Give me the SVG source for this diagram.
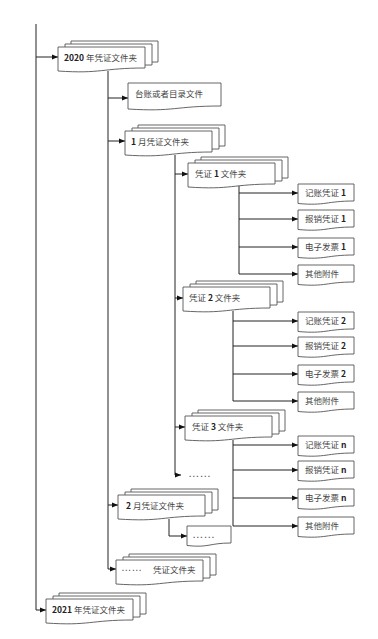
<svg xmlns="http://www.w3.org/2000/svg" xmlns:xlink="http://www.w3.org/1999/xlink" width="378" height="639" viewBox="0 0 378 639">
<style>
.doc{fill:#fff;stroke:#555;stroke-width:0.9}
.ln{fill:none;stroke:#222;stroke-width:1}
.t{font-family:"Noto Sans CJK SC","Noto Sans",sans-serif;font-size:8.5px;fill:#444}
.b{font-weight:bold;fill:#222}
.d{font-family:"Liberation Sans",Arial,sans-serif;font-size:11.5px;fill:#555}
</style>
<defs>
<marker id="ar" markerUnits="userSpaceOnUse" markerWidth="6" markerHeight="6" refX="6" refY="3" orient="auto">
<path d="M0,0.5 L6,3 L0,5.5 z" fill="#111"/>
</marker>
<g id="folder">
<path class="doc" d="M13,-6 h87 v21 c-43.5,0 -43.5,6 -87,3 z"/>
<path class="doc" d="M7,-3 h87 v21 c-43.5,0 -43.5,6 -87,3 z"/>
<path class="doc" d="M0,0 h87 v21 c-43.5,0 -43.5,6 -87,3 z"/>
</g>
<path id="leaf" class="doc" d="M0,0 h56 v17 c-28,0 -28,5 -56,2.5 z"/>
</defs>
<rect width="378" height="639" fill="#fff"/>
<g id="connectors" class="ln">
<path d="M36,24 V610 H46" marker-end="url(#ar)"/>
<path d="M36,57 H58" marker-end="url(#ar)"/>
<path d="M108,71 V569 H116" marker-end="url(#ar)"/>
<path d="M108,98 H128" marker-end="url(#ar)"/>
<path d="M108,141 H125" marker-end="url(#ar)"/>
<path d="M108,505 H118" marker-end="url(#ar)"/>
<path d="M175,155 V475 H181" marker-end="url(#ar)"/>
<path d="M175,174 H188" marker-end="url(#ar)"/>
<path d="M175,298 H183" marker-end="url(#ar)"/>
<path d="M175,427 H185" marker-end="url(#ar)"/>
<path d="M239,185 V274 H298" marker-end="url(#ar)"/>
<path d="M239,193 H298" marker-end="url(#ar)"/>
<path d="M239,219 H298" marker-end="url(#ar)"/>
<path d="M239,247 H298" marker-end="url(#ar)"/>
<path d="M233,311 V401 H298" marker-end="url(#ar)"/>
<path d="M233,321 H298" marker-end="url(#ar)"/>
<path d="M233,346 H298" marker-end="url(#ar)"/>
<path d="M233,374 H298" marker-end="url(#ar)"/>
<path d="M233,440 V526 H298" marker-end="url(#ar)"/>
<path d="M233,445 H298" marker-end="url(#ar)"/>
<path d="M233,470 H298" marker-end="url(#ar)"/>
<path d="M233,498 H298" marker-end="url(#ar)"/>
<path d="M169,519 V536 H187" marker-end="url(#ar)"/>
</g>
<g id="n2020"><use xlink:href="#folder" x="58" y="47"/><text class="t" x="64" y="61"><tspan class="b">2020</tspan> 年凭证文件夹</text></g>
<g id="ntaizhang"><path class="doc" d="M128,83 h93 v23 c-46.5,0 -46.5,6 -93,3 z"/><text class="t" x="135" y="97">台账或者目录文件</text></g>
<g id="njan"><use xlink:href="#folder" x="125" y="131"/><text class="t" x="131" y="145"><tspan class="b">1</tspan> 月凭证文件夹</text></g>
<g id="nv1"><use xlink:href="#folder" x="188" y="163"/><text class="t" x="195" y="177">凭证 <tspan class="b">1</tspan> 文件夹</text></g>
<g id="nv1a"><use xlink:href="#leaf" x="298" y="184"/><text class="t" x="305" y="196">记账凭证 <tspan class="b">1</tspan></text></g>
<g id="nv1b"><use xlink:href="#leaf" x="298" y="210"/><text class="t" x="305" y="222">报销凭证 <tspan class="b">1</tspan></text></g>
<g id="nv1c"><use xlink:href="#leaf" x="298" y="238"/><text class="t" x="305" y="250">电子发票 <tspan class="b">1</tspan></text></g>
<g id="nv1d"><use xlink:href="#leaf" x="298" y="265"/><text class="t" x="305" y="277">其他附件</text></g>
<g id="nv2"><use xlink:href="#folder" x="183" y="287"/><text class="t" x="189" y="301">凭证 <tspan class="b">2</tspan> 文件夹</text></g>
<g id="nv2a"><use xlink:href="#leaf" x="298" y="312"/><text class="t" x="305" y="324">记账凭证 <tspan class="b">2</tspan></text></g>
<g id="nv2b"><use xlink:href="#leaf" x="298" y="337"/><text class="t" x="305" y="349">报销凭证 <tspan class="b">2</tspan></text></g>
<g id="nv2c"><use xlink:href="#leaf" x="298" y="365"/><text class="t" x="305" y="377">电子发票 <tspan class="b">2</tspan></text></g>
<g id="nv2d"><use xlink:href="#leaf" x="298" y="392"/><text class="t" x="305" y="404">其他附件</text></g>
<g id="nv3"><use xlink:href="#folder" x="185" y="416"/><text class="t" x="192" y="430">凭证 <tspan class="b">3</tspan> 文件夹</text></g>
<g id="nv3a"><use xlink:href="#leaf" x="298" y="436"/><text class="t" x="305" y="448">记账凭证 <tspan class="b">n</tspan></text></g>
<g id="nv3b"><use xlink:href="#leaf" x="298" y="461"/><text class="t" x="305" y="473">报销凭证 <tspan class="b">n</tspan></text></g>
<g id="nv3c"><use xlink:href="#leaf" x="298" y="489"/><text class="t" x="305" y="501">电子发票 <tspan class="b">n</tspan></text></g>
<g id="nv3d"><use xlink:href="#leaf" x="298" y="517"/><text class="t" x="305" y="529">其他附件</text></g>
<g id="nvmore"><text class="d" x="188" y="477">……</text></g>
<g id="nfeb"><use xlink:href="#folder" x="118" y="495"/><text class="t" x="126" y="509"><tspan class="b">2</tspan> 月凭证文件夹</text></g>
<g id="nfebmore"><path class="doc" d="M187,526 h44 v17 c-22,0 -22,5 -44,2.5 z"/><text class="d" x="192" y="538">……</text></g>
<g id="nmonths"><use xlink:href="#folder" x="116" y="560"/><text class="d" x="121" y="571" style="font-size:10.5px">……</text><text class="t" x="153" y="573">凭证文件夹</text></g>
<g id="n2021"><use xlink:href="#folder" x="46" y="599"/><text class="t" x="52" y="613"><tspan class="b">2021</tspan> 年凭证文件夹</text></g>
</svg>
